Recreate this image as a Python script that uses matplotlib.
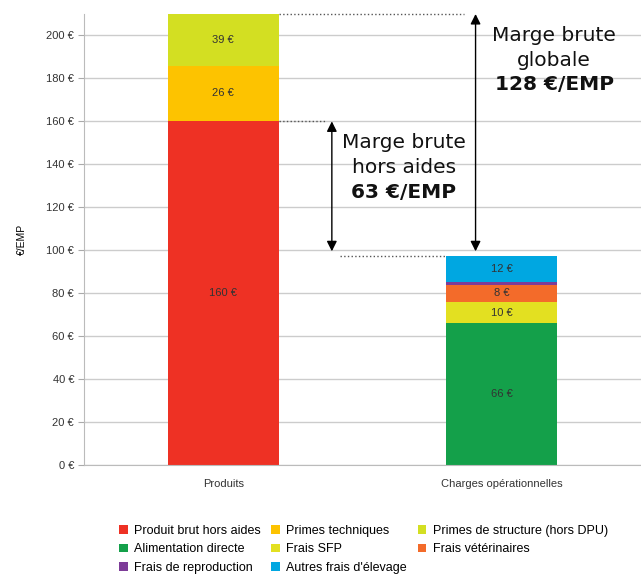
import numpy as np
import matplotlib.pyplot as plt
from matplotlib.patches import Patch

categories = ['Produits', 'Charges opérationnelles']

produits_labels = ['Produit brut hors aides', 'Primes techniques', 'Primes de structure (hors DPU)']
produits_values = [160, 26, 39]
produits_colors = ['#ee3124', '#fdc300', '#d3df22']

charges_labels = ['Alimentation directe', 'Frais SFP', 'Frais vétérinaires',
                  'Frais de reproduction', "Autres frais d'élevage"]
charges_values = [66, 10, 8, 1.3, 12]
charges_colors = ['#14a04a', '#e3e021', '#f36b2a', '#7d3c98', '#00a7e1']
charges_show = [True, True, True, False, True]

y_max = 210
y_ticks = np.arange(0, 201, 20)

fig = plt.figure(figsize=(6.41, 5.78), dpi=100)
ax = fig.add_axes([0.131, 0.1955, 0.869, 0.7803])

width = 0.4
lab_font = dict(fontsize=8, family='Liberation Sans', color='#333333', ha='center', va='center')

bottom = 0
for v, c in zip(produits_values, produits_colors):
    ax.bar(0, v, width, bottom=bottom, color=c, zorder=2)
    top = min(bottom + v, y_max)
    ax.text(0, (bottom + top) / 2, f'{v} €', **lab_font)
    bottom += v
total_prod = bottom

bottom = 0
for v, c, s in zip(charges_values, charges_colors, charges_show):
    ax.bar(1, v, width, bottom=bottom, color=c, zorder=2)
    if s:
        ax.text(1, bottom + v / 2, f'{v:g} €', **lab_font)
    bottom += v
total_charges = bottom

ax.set_xlim(-0.5, 1.5)
ax.set_ylim(0, y_max)
ax.set_yticks(y_ticks)
ax.set_yticklabels([f'{t} €' for t in y_ticks], fontsize=8, family='Liberation Sans', color='#333333')
ax.set_xticks([0, 1])
ax.set_xticklabels(categories, fontsize=8, family='Liberation Sans', color='#333333')
ax.tick_params(axis='x', length=0, pad=10)
ax.tick_params(axis='y', length=4, color='#aaaaaa', pad=3)
ax.set_ylabel('€/EMP', fontsize=7.5, family='Liberation Sans', labelpad=14)
ax.grid(axis='y', color='#cccccc', lw=1, zorder=0)
for sp in ['top', 'right']:
    ax.spines[sp].set_visible(False)
ax.spines['left'].set_color('#bbbbbb')
ax.spines['bottom'].set_color('#bbbbbb')

# dotted guide lines
x_arr1, x_arr2 = 0.39, 0.906
ax.plot([width / 2, x_arr2 - 0.04], [y_max, y_max], ls=':', color='#555555', lw=1, clip_on=False, zorder=3)
ax.plot([width / 2, x_arr1 - 0.02], [produits_values[0]] * 2, ls=':', color='#555555', lw=1, zorder=3)
ax.plot([x_arr1 + 0.03, 1 - width / 2], [total_charges] * 2, ls=':', color='#555555', lw=1, zorder=3)

arrow = dict(arrowstyle='<|-|>', color='black', lw=1, mutation_scale=15, shrinkA=0, shrinkB=0)
ax.annotate('', xy=(x_arr1, produits_values[0]), xytext=(x_arr1, 99.5), arrowprops=arrow)
ax.annotate('', xy=(x_arr2, y_max), xytext=(x_arr2, 99.5), arrowprops=arrow, annotation_clip=False)

marge_ha = produits_values[0] - total_charges
marge_gl = total_prod - total_charges
txt = dict(fontsize=14.5, ha='center', va='center', family='DejaVu Sans', color='#111111')
ax.text(0.649, 150, 'Marge brute', **txt)
ax.text(0.649, 138.5, 'hors aides', **txt)
ax.text(0.649, 127, f'{marge_ha:.0f} €/EMP', fontweight='bold', **txt)
ax.text(1.188, 200, 'Marge brute', **txt)
ax.text(1.188, 188.5, 'globale', **txt)
ax.text(1.188, 177, f'{marge_gl:.0f} €/EMP', fontweight='bold', **txt)

# legend, filled column by column
all_labels = produits_labels + charges_labels
all_colors = produits_colors + charges_colors
order = [0, 3, 6, 1, 4, 7, 2, 5]
handles = [Patch(facecolor=all_colors[i], label=all_labels[i]) for i in order]
fig.legend(handles=handles, ncol=3, loc='lower left', bbox_to_anchor=(0.168, -0.012),
           frameon=False, prop={'family': 'Liberation Sans', 'size': 9},
           handlelength=0.7, handleheight=0.7, handletextpad=0.5,
           columnspacing=0.85, labelspacing=0.5)

fig.savefig('out.png', dpi=100)
